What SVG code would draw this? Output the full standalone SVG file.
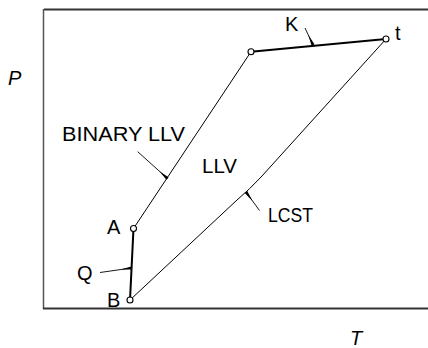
<svg xmlns="http://www.w3.org/2000/svg" width="428" height="348" viewBox="0 0 428 348">
  <style>
    .lbl { font-family: "Liberation Sans", Arial, sans-serif; font-size: 20px; fill: #000; }
    .ax { font-family: "Liberation Sans", Arial, sans-serif; font-size: 20px; font-style: italic; fill: #000; }
    .thin { fill: none; stroke: #000; stroke-width: 1; }
    .thick { fill: none; stroke: #000; stroke-width: 2; }
    .lead { fill: none; stroke: #000; stroke-width: 0.9; }
    .pt { fill: #fff; stroke: #000; stroke-width: 1.1; }
  </style>
  <defs>
    <marker id="wedge" viewBox="-12 -2 13 4" markerWidth="13" markerHeight="4" refX="0" refY="0" orient="auto" markerUnits="userSpaceOnUse">
      <path d="M0,-1.6 L0,1.6 L-11,0 Z" fill="#000"/>
    </marker>
  </defs>
  <rect width="428" height="348" fill="#fff"/>

  <g id="frame">
    <line x1="44" y1="9.5" x2="428" y2="9.5" stroke="#333" stroke-width="2"/>
    <line x1="43.5" y1="9" x2="43.5" y2="309" stroke="#555" stroke-width="1.5"/>
    <line x1="43" y1="308.5" x2="428" y2="308.5" stroke="#333" stroke-width="2"/>
    <text class="ax" x="8" y="85">P</text>
    <text class="ax" x="350" y="345">T</text>
  </g>

  <g id="connectors">
    <line class="thin" x1="251" y1="51.7" x2="133.5" y2="228.5"/>
    <line class="thick" x1="251" y1="51.7" x2="386" y2="39"/>
    <line class="thick" x1="133.5" y1="228.5" x2="130" y2="300"/>
    <path class="thin" d="M386,39 L262,176 Q250,189 237,200 L130,300"/>
    <line class="lead" x1="137.7" y1="151.7" x2="167.5" y2="178.5" marker-end="url(#wedge)"/>
    <line class="lead" x1="259.5" y1="210.5" x2="246" y2="192" marker-end="url(#wedge)"/>
    <line class="lead" x1="305" y1="28" x2="313" y2="45" marker-end="url(#wedge)"/>
    <line class="lead" x1="100" y1="272.5" x2="131.5" y2="268" marker-end="url(#wedge)"/>
  </g>

  <g id="node-A">
    <circle class="pt" cx="133.5" cy="228.5" r="3"/>
    <text class="lbl" x="107" y="234">A</text>
  </g>
  <g id="node-B">
    <circle class="pt" cx="130" cy="300" r="3"/>
    <text class="lbl" x="107" y="307">B</text>
  </g>
  <g id="node-top">
    <circle class="pt" cx="251" cy="51.7" r="3"/>
  </g>
  <g id="node-t">
    <circle class="pt" cx="386" cy="39" r="3"/>
    <text class="lbl" x="395" y="40">t</text>
  </g>

  <g id="labels">
    <text class="lbl" x="62" y="141" textLength="123" lengthAdjust="spacingAndGlyphs">BINARY LLV</text>
    <text class="lbl" x="202" y="173" textLength="35" lengthAdjust="spacingAndGlyphs">LLV</text>
    <text class="lbl" x="268" y="222" textLength="45" lengthAdjust="spacingAndGlyphs">LCST</text>
    <text class="lbl" x="77" y="280">Q</text>
    <text class="lbl" x="285" y="31">K</text>
  </g>
</svg>
